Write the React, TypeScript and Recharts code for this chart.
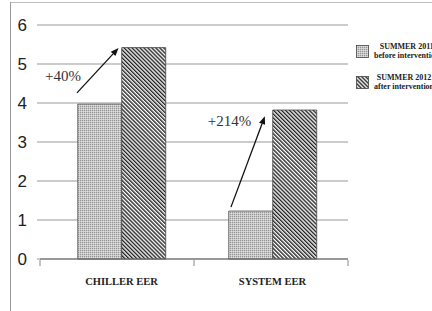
import {
  BarChart, Bar, XAxis, YAxis, CartesianGrid, Legend, ReferenceLine, ReferenceDot,
} from 'recharts';

const categories = ['CHILLER EER', 'SYSTEM EER'];
const before2011 = [3.97, 1.23];
const after2012 = [5.42, 3.82];
const yTicks = [0, 1, 2, 3, 4, 5, 6];

const seriesNames = ['SUMMER 2011|before intervention', 'SUMMER 2012|after intervention'];

// arrow annotations (data coords on the hidden numeric axis, 0..1 = full plot width)
const arrows = [
  { from: { x: 0.12, y: 4.26 }, to: { x: 0.255, y: 5.41 } },
  { from: { x: 0.62, y: 1.33 }, to: { x: 0.73, y: 3.66 } },
];
const arrowLabels = [
  { x: 0.075, y: 4.68, text: '+40%' },
  { x: 0.615, y: 3.55, text: '+214%' },
];

const data = categories.map((name, i) => ({ name, before: before2011[i], after: after2012[i] }));

const serif = '"Liberation Serif", "Times New Roman", serif';

const Arrow = (props: any) => {
  const { x1, y1, x2, y2 } = props;
  const ang = Math.atan2(y2 - y1, x2 - x1);
  const L = 8;
  const w = 3.2;
  const bx = x2 - L * Math.cos(ang);
  const by = y2 - L * Math.sin(ang);
  const px = -Math.sin(ang) * w;
  const py = Math.cos(ang) * w;
  return (
    <g>
      <line x1={x1} y1={y1} x2={bx} y2={by} stroke="#111" strokeWidth={1.3} />
      <polygon points={`${x2},${y2} ${bx + px},${by + py} ${bx - px},${by - py}`} fill="#111" />
    </g>
  );
};

const PctLabel = (text: string) => (props: any) => (
  <text x={props.cx} y={props.cy} textAnchor="middle" dominantBaseline="central"
    style={{ fontFamily: serif }} fontSize={15} fill="#333">
    {text}
  </text>
);

const LegendBox = () => (
  <div style={{ width: 100 }}>
    {seriesNames.map((s, i) => {
      const [l1, l2] = s.split('|');
      return (
        <div key={s} style={{ display: 'flex', alignItems: 'center', height: 31 }}>
          <svg width={14} height={14} style={{ flex: 'none' }}>
            <rect x={0.5} y={0.5} width={12} height={12} fill={i === 0 ? 'url(#dots)' : 'url(#stripes)'} stroke="#444" strokeWidth={0.8} />
          </svg>
          <div style={{
            fontFamily: serif, fontWeight: 'bold', fontSize: 8, lineHeight: '8.5px',
            textAlign: 'center', whiteSpace: 'nowrap', marginLeft: 4, color: '#222',
          }}>
            <div>{l1}</div>
            <div>{l2}</div>
          </div>
        </div>
      );
    })}
  </div>
);

export default function App() {
  return (
    <div style={{
      position: 'absolute', left: 0, top: 0, width: 432, height: 311, overflow: 'hidden', background: '#fff',
    }}>
      <div style={{ position: 'absolute', left: 10, top: 2, width: 440, height: 320, borderLeft: '1px solid #999', borderTop: '1px solid #bbb' }} />
      <BarChart
        width={432}
        height={311}
        data={data}
        margin={{ top: 25, right: 84, bottom: 21, left: 0 }}
        barCategoryGap="21%"
        barGap={0}
        style={{ position: 'absolute', left: 0, top: 0 }}
      >
        <defs>
          <pattern id="dots" width="2" height="2" patternUnits="userSpaceOnUse">
            <rect width="2" height="2" fill="#c8c8c8" />
            <rect width="1" height="1" fill="#959595" />
            <rect x="1" y="1" width="1" height="1" fill="#dedede" />
          </pattern>
          <pattern id="stripes" width="2.8" height="2.8" patternUnits="userSpaceOnUse" patternTransform="rotate(-45)">
            <rect width="2.8" height="2.8" fill="#fff" />
            <rect width="1.4" height="2.8" fill="#222" />
          </pattern>
        </defs>
        <CartesianGrid vertical={false} stroke="#999" strokeWidth={1} />
        <XAxis
          dataKey="name"
          height={1}
          padding={{ left: 6, right: 0 }}
          axisLine={{ stroke: '#666' }}
          tickLine={false}
          tickMargin={13}
          tick={{ fontFamily: serif, fontWeight: 'bold', fontSize: 10.5, fill: '#222' }}
        />
        <XAxis
          xAxisId="num"
          type="number"
          domain={[0, 1]}
          allowDataOverflow
          ticks={[0, 0.5, 1]}
          axisLine={false}
          tickLine={{ stroke: '#888' }}
          tickSize={6}
          tickFormatter={() => ''}
          height={30}
        />
        <YAxis
          domain={[0, 6]}
          ticks={yTicks}
          width={40}
          axisLine={false}
          tickLine={{ stroke: '#999' }}
          tickSize={3}
          tickMargin={10}
          tick={{ fontFamily: '"Liberation Sans", Arial, sans-serif', fontSize: 17, fill: '#222' }}
        />
        <Legend
          layout="vertical"
          align="center"
          verticalAlign="middle"
          content={<LegendBox />}
          wrapperStyle={{ left: 356, top: 36, width: 100 }}
        />
        <Bar dataKey="before" fill="url(#dots)" stroke="#555" strokeWidth={0.8} isAnimationActive={false} />
        <Bar dataKey="after" fill="url(#stripes)" stroke="#444" strokeWidth={0.8} isAnimationActive={false} />
        {arrows.map((a, i) => (
          <ReferenceLine
            key={`arrow-${i}`}
            xAxisId="num"
            segment={[a.from, a.to]}
            shape={<Arrow />}
            ifOverflow="visible"
          />
        ))}
        {arrowLabels.map((t) => (
          <ReferenceDot
            key={t.text}
            xAxisId="num"
            x={t.x}
            y={t.y}
            r={1}
            ifOverflow="visible"
            shape={PctLabel(t.text)}
          />
        ))}
      </BarChart>
    </div>
  );
}
